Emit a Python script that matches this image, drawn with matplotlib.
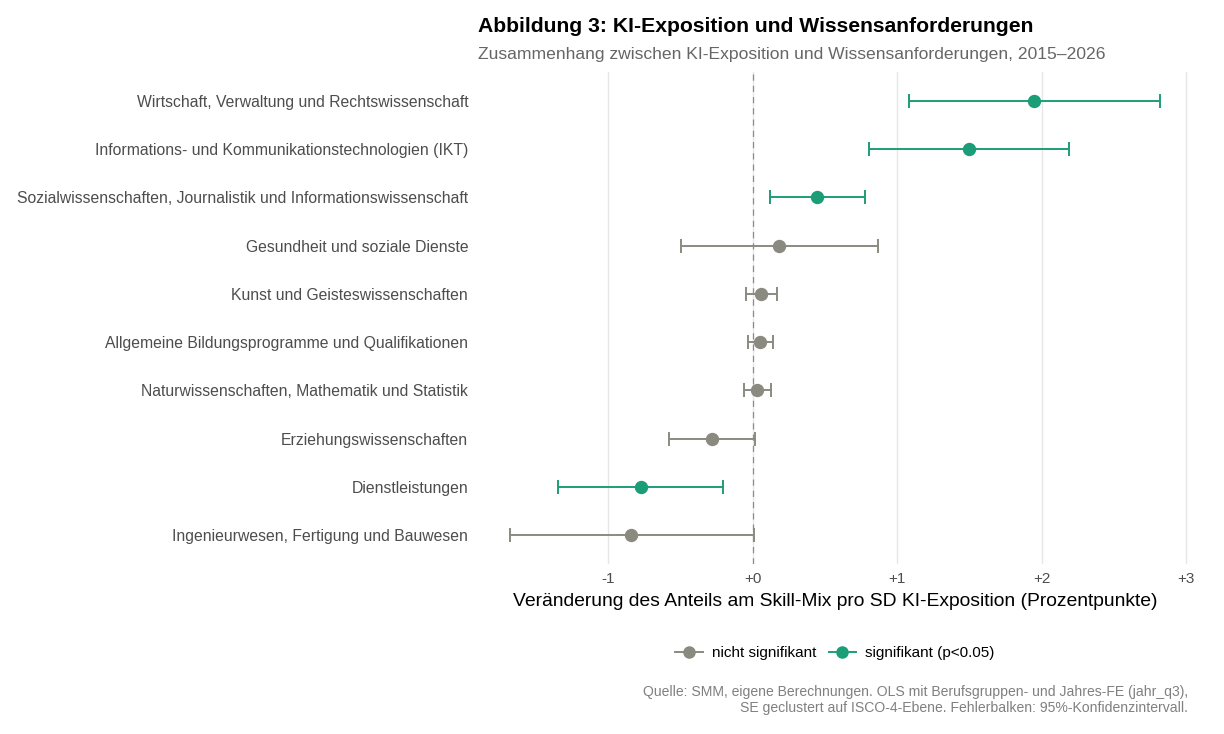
import matplotlib
matplotlib.use("Agg")
import matplotlib.pyplot as plt
from matplotlib.lines import Line2D

plt.rcParams['font.family'] = ['Liberation Sans', 'DejaVu Sans']

# Fields of education, top to bottom
categories = [
    "Wirtschaft, Verwaltung und Rechtswissenschaft",
    "Informations- und Kommunikationstechnologien (IKT)",
    "Sozialwissenschaften, Journalistik und Informationswissenschaft",
    "Gesundheit und soziale Dienste",
    "Kunst und Geisteswissenschaften",
    "Allgemeine Bildungsprogramme und Qualifikationen",
    "Naturwissenschaften, Mathematik und Statistik",
    "Erziehungswissenschaften",
    "Dienstleistungen",
    "Ingenieurwesen, Fertigung und Bauwesen",
]
estimate = [1.948, 1.498, 0.444, 0.184, 0.057, 0.050, 0.031, -0.282, -0.774, -0.841]
ci_low = [1.083, 0.806, 0.118, -0.499, -0.048, -0.029, -0.061, -0.579, -1.348, -1.677]
ci_high = [2.820, 2.190, 0.776, 0.868, 0.169, 0.140, 0.127, 0.019, -0.202, 0.009]
significant = [True, True, True, False, False, False, False, False, True, False]

x_ticks = [-1, 0, 1, 2, 3]
x_ticklabels = ["-1", "+0", "+1", "+2", "+3"]

GREEN = "#1b9e77"
GREY = "#8a8a80"
FONT = ['Liberation Sans', 'DejaVu Sans']

fig = plt.figure(figsize=(12.24, 7.34), dpi=100)
ax = fig.add_axes([0.3905, 0.2316, 0.5837, 0.6703])

n = len(categories)
ypos = list(range(n - 1, -1, -1))

ax.axvline(0, color="#8c8c8c", lw=0.9, ls=(0, (5, 4)), zorder=2)

for y, est, lo, hi, sig in zip(ypos, estimate, ci_low, ci_high, significant):
    col = GREEN if sig else GREY
    ax.errorbar(est, y, xerr=[[est - lo], [hi - est]], fmt="o", color=col,
                ms=8.6, elinewidth=1.4, capsize=5, capthick=1.4, zorder=3)

ax.set_xlim(-1.902, 3.045)
ax.set_ylim(-0.6, n - 0.4)
ax.set_xticks(x_ticks)
ax.set_xticklabels(x_ticklabels, fontsize=11, color="#4d4d4d", family=FONT)
ax.set_yticks(ypos)
ax.set_yticklabels(categories, fontsize=11.3, color="#4d4d4d", family=FONT)
ax.tick_params(axis="both", length=0)
ax.tick_params(axis="y", pad=7)
ax.tick_params(axis="x", pad=6)
ax.grid(axis="x", color="#e6e6e6", lw=1, zorder=0)
ax.set_axisbelow(True)
for s in ax.spines.values():
    s.set_visible(False)

ax.set_xlabel("Veränderung des Anteils am Skill-Mix pro SD KI-Exposition (Prozentpunkte)",
              fontsize=13.9, color="black", labelpad=5, family=FONT)

fig.text(478 / 1224, 1 - 25 / 734, "Abbildung 3: KI-Exposition und Wissensanforderungen",
         fontsize=15.2, fontweight="bold", ha="left", va="center_baseline", family=FONT)
fig.text(478 / 1224, 1 - 53 / 734,
         "Zusammenhang zwischen KI-Exposition und Wissensanforderungen, 2015–2026",
         fontsize=12.6, color="#666666", ha="left", va="center_baseline", family=FONT)

handles = [
    Line2D([0], [0], color=GREY, marker="o", ms=8, lw=1.4, label="nicht signifikant"),
    Line2D([0], [0], color=GREEN, marker="o", ms=8, lw=1.4, label="signifikant (p<0.05)"),
]
fig.legend(handles=handles, loc="center", bbox_to_anchor=(835 / 1224, 1 - 653 / 734),
           ncol=2, frameon=False, prop={"family": FONT, "size": 11},
           handlelength=1.8, handletextpad=0.6, columnspacing=0.8)

fig.text(1188 / 1224, 1 - 700 / 734,
         "Quelle: SMM, eigene Berechnungen. OLS mit Berufsgruppen- und Jahres-FE (jahr_q3),\n"
         "SE geclustert auf ISCO-4-Ebene. Fehlerbalken: 95%-Konfidenzintervall.",
         fontsize=10.1, color="#808080", ha="right", va="center", linespacing=1.1,
         multialignment="right", family=FONT)

fig.savefig("out.png", dpi=100, facecolor="white")
